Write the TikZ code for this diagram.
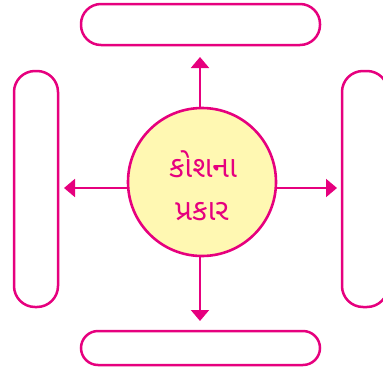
\documentclass[tikz,border=0pt]{standalone}
\usepackage{fontspec}
\newfontfamily\gujfont[Script=Gujarati]{Noto Sans Gujarati UI}
\usetikzlibrary{arrows.meta}
\definecolor{mag}{HTML}{E6007E}
\definecolor{cfill}{HTML}{FFF8B2}
\begin{document}
\begin{tikzpicture}[x=1pt,y=-1pt,
  pill/.style={draw=mag,line width=2.5pt,rounded corners=17pt,fill=white},
  arr/.style={draw=mag,line width=2pt,-{Triangle[width=18pt,length=11pt]}},
  lbl/.style={text=mag,font=\gujfont\fontsize{30}{34}\selectfont,inner sep=0pt}]
\useasboundingbox (0,0) rectangle (383,378);
\draw[pill,rounded corners=20pt] (81,4) rectangle (320,45);
\draw[pill] (81,331) rectangle (320,365);
\draw[pill,rounded corners=21pt] (14,71) rectangle (58,307);
\draw[pill,rounded corners=21pt] (342,71) rectangle (388,307);
\node[circle,draw=mag,fill=cfill,line width=2.6pt,minimum size=148pt,inner sep=0pt] (c) at (202,182) {};
\node[lbl] (t1) at (203,164) {કોશના};
\node[lbl] (t2) at (202,212) {પ્રકાર};
\coordinate (u0) at (200,109);
\coordinate (u1) at (200,57);
\coordinate (d0) at (200,256);
\coordinate (d1) at (200,321);
\coordinate (l0) at (129,188);
\coordinate (l1) at (64,188);
\coordinate (r0) at (275,188);
\coordinate (r1) at (337,188);
\draw[arr] (u0) -- (u1);
\draw[arr] (d0) -- (d1);
\draw[arr] (l0) -- (l1);
\draw[arr] (r0) -- (r1);
\end{tikzpicture}
\end{document}
